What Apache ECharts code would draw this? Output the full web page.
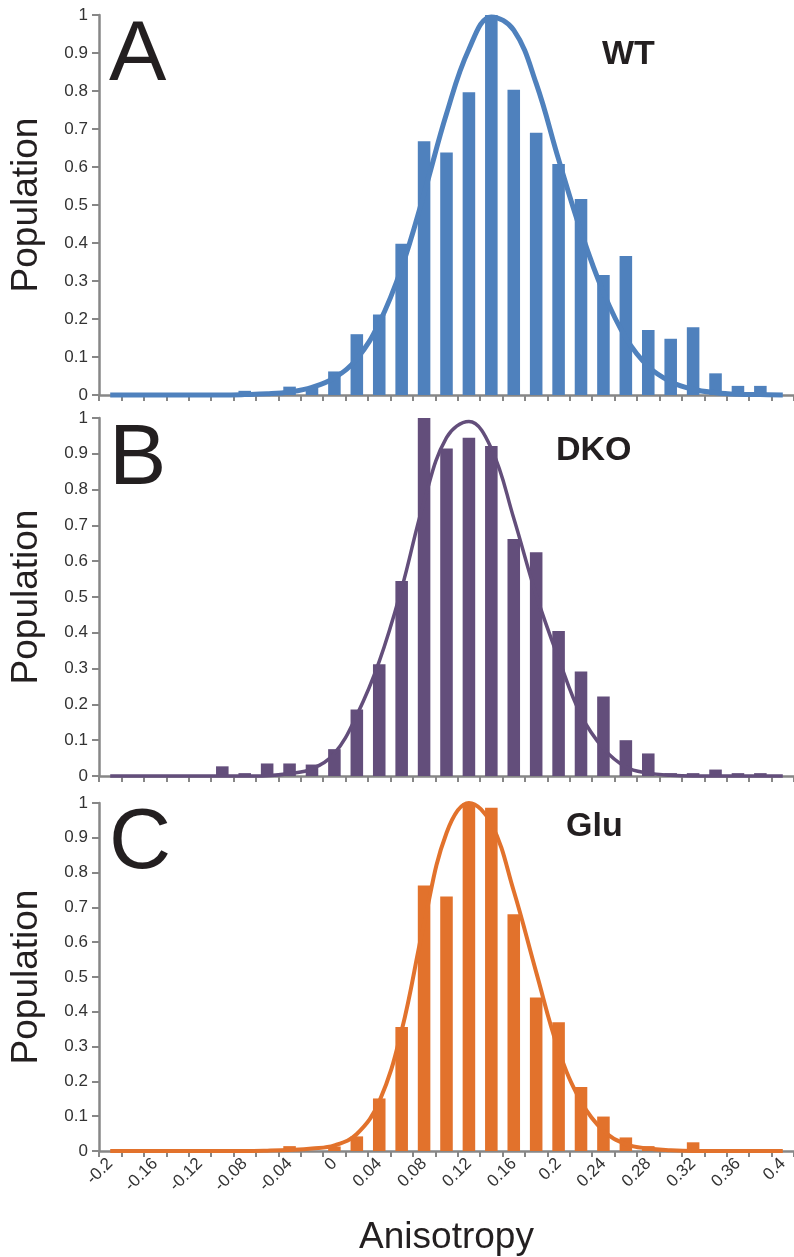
<!DOCTYPE html>
<html><head><meta charset="utf-8">
<script src="https://cdn.jsdelivr.net/npm/echarts@6/dist/echarts.min.js"></script>
<style>html,body{margin:0;padding:0;background:#fff;}#c{width:794px;height:1257px;}</style>
</head><body><div id="c"></div>
<script>
const categories = ["-0.2","-0.18","-0.16","-0.14","-0.12","-0.1","-0.08","-0.06","-0.04","-0.02","0","0.02","0.04","0.06","0.08","0.1","0.12","0.14","0.16","0.18","0.2","0.22","0.24","0.26","0.28","0.3","0.32","0.34","0.36","0.38","0.4"];
const wtBars   = [0,0,0,0,0,0,0.011,0,0.022,0.02,0.062,0.16,0.212,0.398,0.668,0.638,0.797,1.0,0.803,0.69,0.608,0.516,0.316,0.366,0.171,0.148,0.178,0.057,0.024,0.024,0];
const wtCurve  = [0,0,0,0,0,0,0.001,0.003,0.008,0.02,0.045,0.095,0.19,0.335,0.53,0.74,0.91,0.995,0.96,0.82,0.62,0.43,0.27,0.15,0.075,0.035,0.015,0.006,0.002,0.001,0];
const dkoBars  = [0,0,0,0,0,0.027,0.008,0.035,0.035,0.032,0.075,0.186,0.312,0.545,1.0,0.915,0.945,0.922,0.662,0.625,0.405,0.292,0.222,0.1,0.063,0.008,0.008,0.018,0.008,0.008,0];
const dkoCurve = [0,0,0,0,0,0,0,0.001,0.007,0.02,0.063,0.17,0.32,0.524,0.767,0.945,0.99,0.915,0.72,0.506,0.328,0.17,0.077,0.025,0.008,0.002,0,0,0,0,0];
const gluBars  = [0,0,0,0,0,0,0,0,0.014,0,0.013,0.042,0.151,0.356,0.763,0.731,1.0,0.986,0.68,0.441,0.37,0.184,0.099,0.039,0.014,0.004,0.025,0,0,0,0];
const gluCurve = [0,0,0,0,0,0,0,0.001,0.003,0.007,0.016,0.049,0.142,0.346,0.654,0.914,1.0,0.94,0.747,0.514,0.29,0.142,0.058,0.02,0.007,0.002,0,0,0,0,0];
const panelLetters = ["A","B","C"];
const panelNames = ["WT","DKO","Glu"];
const colors = ["#4F81BD","#634E7B","#E2722C"];
const yTitle = "Population";
const xTitle = "Anisotropy";

const FONT = "Liberation Sans";
const AX = "#878787";
const grids = [
  {left:98, top:15, width:699, height:380},
  {left:98, top:418, width:699, height:358},
  {left:98, top:803, width:699, height:358}
];
const bars = [wtBars, dkoBars, gluBars];
const curves = [wtCurve, dkoCurve, gluCurve];
const lineW = [5, 3.5, 4];

const xAxes = grids.map((g,i)=>({
  type:'category', gridIndex:i, data:categories, boundaryGap:true,
  axisLine:{lineStyle:{color:AX,width:2.5}},
  axisTick:{show:true, interval:0, length:6, lineStyle:{color:AX,width:2}},
  axisLabel:{show:i===2, interval:1, rotate:45, fontFamily:FONT, fontSize:17, color:'#333', margin:10},
  name: i===2 ? xTitle : '', nameLocation:'middle', nameGap:68,
  nameTextStyle:{fontFamily:FONT, fontSize:37, color:'#231F20'}
}));
const yAxes = grids.map((g,i)=>({
  type:'value', gridIndex:i, min:0, max:1, interval:0.1,
  axisLine:{show:true, lineStyle:{color:AX,width:2.5}},
  axisTick:{show:true, length:7, lineStyle:{color:AX,width:2}},
  splitLine:{show:false},
  axisLabel:{fontFamily:FONT, fontSize:17, color:'#333', margin:11, formatter:v=>String(+v.toFixed(1))},
  name:yTitle, nameLocation:'middle', nameRotate:90, nameGap:54,
  nameTextStyle:{fontFamily:FONT, fontSize:37, color:'#231F20'}
}));
const series = [];
for(let i=0;i<3;i++){
  series.push({type:'bar', xAxisIndex:i, yAxisIndex:i, data:bars[i], barWidth:'56%', itemStyle:{color:colors[i]}, z:2});
  series.push({type:'line', xAxisIndex:i, yAxisIndex:i, data:curves[i], smooth:0.4, showSymbol:false, clip:false,
    lineStyle:{color:colors[i], width:lineW[i]}, z:3});
}
const titles = [];
const letterTop = [8, 412, 796];
const nameTop = [33, 429, 805];
const nameLeft = [597, 551, 561];
for(let i=0;i<3;i++){
  titles.push({text:panelLetters[i], left:104, top:letterTop[i], textStyle:{fontFamily:FONT, fontSize:86, fontWeight:'normal', color:'#231F20'}});
  titles.push({text:panelNames[i], left:nameLeft[i], top:nameTop[i], textStyle:{fontFamily:FONT, fontSize:34, fontWeight:'bold', color:'#231F20'}});
}
const chart = echarts.init(document.getElementById('c'), null, {renderer:'canvas'});
chart.setOption({
  animation:false, backgroundColor:'#fff',
  title:titles, grid:grids, xAxis:xAxes, yAxis:yAxes, series:series
});
</script></body></html>
